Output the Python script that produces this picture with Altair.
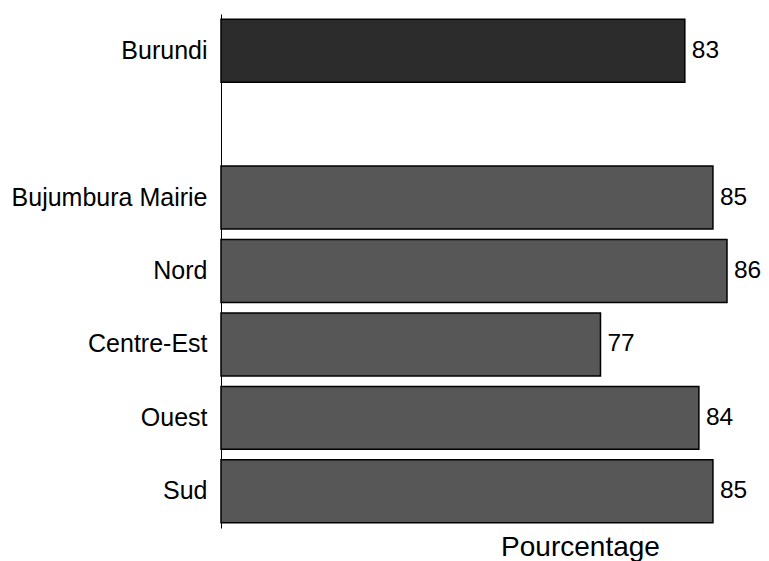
import altair as alt
import pandas as pd

regions = ["Burundi", "Bujumbura Mairie", "Nord", "Centre-Est", "Ouest", "Sud"]
values = [83, 85, 86, 77, 84, 85]
groups = ["Pays", "Région", "Région", "Région", "Région", "Région"]
y_order = ["Burundi", " ", "Bujumbura Mairie", "Nord", "Centre-Est", "Ouest", "Sud"]
x_start = 50
x_end = 88.42

df = pd.DataFrame({"region": regions, "value": values, "group": groups})

yscale = alt.Scale(domain=y_order, paddingInner=0.143, paddingOuter=0.0715)
xscale = alt.Scale(domain=[x_start, x_end], nice=False, zero=False)

y_axis = alt.Y(
    "region:N", sort=y_order, scale=yscale,
    axis=alt.Axis(title=None, ticks=False, labelPadding=14, labelFontSize=25, labelLimit=400,
                  labelColor="black", labelFont="Liberation Sans",
                  domainColor="black", domainWidth=1, grid=False),
)
x_axis = alt.X(
    "value:Q", scale=xscale,
    axis=alt.Axis(title="Pourcentage", domain=False, ticks=False, labels=False, grid=False,
                  titleFontSize=28, titleFontWeight="normal", titleFont="Liberation Sans",
                  titleX=359, titleY=27, titleAlign="center", titleBaseline="alphabetic",
                  titleColor="black"),
)

bars = alt.Chart(df).mark_bar(stroke="black", strokeWidth=1.5).encode(
    y=y_axis,
    x=x_axis,
    x2=alt.datum(x_start),
    fill=alt.Fill("group:N", scale=alt.Scale(domain=["Pays", "Région"], range=["#2c2c2c", "#575757"]), legend=None),
)

text = alt.Chart(df).mark_text(align="left", baseline="middle", dx=7, fontSize=24.5,
                               font="Liberation Sans", color="black").encode(
    y=alt.Y("region:N", sort=y_order, scale=yscale),
    x=alt.X("value:Q", scale=xscale),
    text="value:Q",
)

chart = alt.layer(bars, text).properties(
    width=540, height=514,
    autosize=alt.AutoSizeParams(type="none"),
    padding={"left": 213, "top": 6, "right": 0, "bottom": 33},
).configure_view(strokeWidth=0)

chart.save("out.html", embed_options={"renderer": "svg", "actions": False})
